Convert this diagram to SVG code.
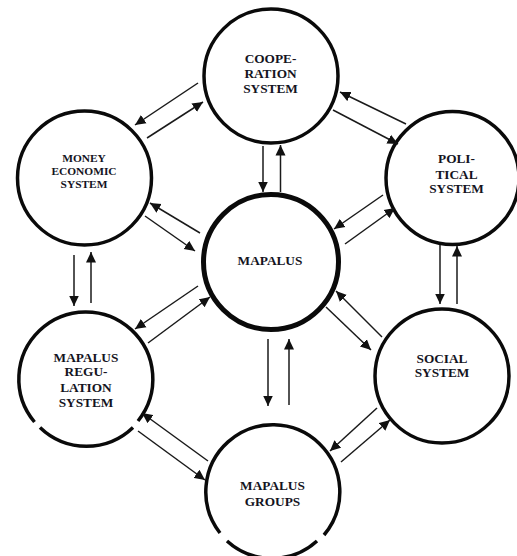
<svg xmlns="http://www.w3.org/2000/svg" width="517" height="556" viewBox="0 0 517 556">
<defs>
<marker id="ah" markerUnits="userSpaceOnUse" markerWidth="11" markerHeight="11" refX="10.500" refY="5.500" orient="auto"><path d="M0,0.500 L10.500,5.500 L0,10.500 Z" fill="#111"/></marker>
</defs>
<style>
.n{fill:#fff;stroke:#0a0a0a;stroke-width:3.5}
.o{fill:none;stroke:#0a0a0a;stroke-width:3.5}
.t{font-family:"Liberation Serif","Times New Roman",serif;font-weight:bold;font-size:13.3px;fill:#14141e;text-anchor:middle}
.s{font-size:11.4px}
#connectors line{stroke:#1a1a1a;stroke-width:1.5;marker-end:url(#ah)}
</style>
<rect width="517" height="556" fill="#fff"/>
<g id="cooperation"><circle class="n" cx="271" cy="76" r="67"/><text class="t" x="270.5" y="63">COOPE-</text><text class="t" x="270.5" y="78">RATION</text><text class="t" x="270.5" y="93">SYSTEM</text></g>
<g id="money"><circle class="n" cx="84.5" cy="178" r="67"/><text class="t s" x="84" y="162">MONEY</text><text class="t s" x="84" y="175">ECONOMIC</text><text class="t s" x="84" y="188">SYSTEM</text></g>
<g id="political"><circle class="n" cx="452.500" cy="178" r="66.500"/><text class="t" x="456.500" y="163">POLI-</text><text class="t" x="456.500" y="179">TICAL</text><text class="t" x="456.500" y="193">SYSTEM</text></g>
<g id="mapalus"><circle class="n" cx="271" cy="262" r="67.500" style="stroke-width:5"/><text class="t" x="270" y="265">MAPALUS</text></g>
<g id="regulation"><path class="o" d="M34.500,422 A67,67 0 1 1 138,421"/><path class="o" d="M40,427.500 A67,67 0 0 0 133,427.500"/><text class="t" x="86" y="362">MAPALUS</text><text class="t" x="86" y="376">REGU-</text><text class="t" x="86" y="392">LATION</text><text class="t" x="86" y="407">SYSTEM</text></g>
<g id="social"><circle class="n" cx="442" cy="376" r="67"/><text class="t" x="442" y="363">SOCIAL</text><text class="t" x="442" y="377">SYSTEM</text></g>
<g id="groups"><path class="o" d="M220,533 A67,67 0 1 1 324,535"/><path class="o" d="M227,541 A67,67 0 0 0 317,541"/><text class="t" x="272.500" y="490">MAPALUS</text><text class="t" x="272.500" y="506">GROUPS</text></g>
<g id="connectors">
<line x1="198" y1="83" x2="135" y2="125"/><line x1="147" y1="138" x2="203" y2="102"/>
<line x1="200" y1="233" x2="150" y2="203"/><line x1="145" y1="216" x2="195" y2="251"/>
<line x1="74" y1="255" x2="74" y2="306"/><line x1="91" y1="303" x2="91" y2="252"/>
<line x1="263" y1="146" x2="263" y2="192"/><line x1="280.500" y1="192" x2="280.500" y2="145"/>
<line x1="406" y1="124" x2="340" y2="92"/><line x1="333" y1="110" x2="398" y2="144"/>
<line x1="383" y1="195" x2="334" y2="229"/><line x1="345" y1="244" x2="395" y2="208"/>
<line x1="440" y1="245" x2="440" y2="304"/><line x1="457" y1="304" x2="457" y2="246"/>
<line x1="198" y1="286" x2="135" y2="329"/><line x1="148" y1="343" x2="210" y2="297"/>
<line x1="382" y1="337" x2="336" y2="291"/><line x1="326" y1="307" x2="371" y2="350"/>
<line x1="268" y1="339" x2="268" y2="406"/><line x1="289" y1="405" x2="289" y2="339"/>
<line x1="377" y1="408" x2="330" y2="451"/><line x1="341" y1="462" x2="390" y2="420"/>
<line x1="208" y1="461" x2="142" y2="413"/><line x1="138" y1="431" x2="205" y2="480"/>
</g>
</svg>
